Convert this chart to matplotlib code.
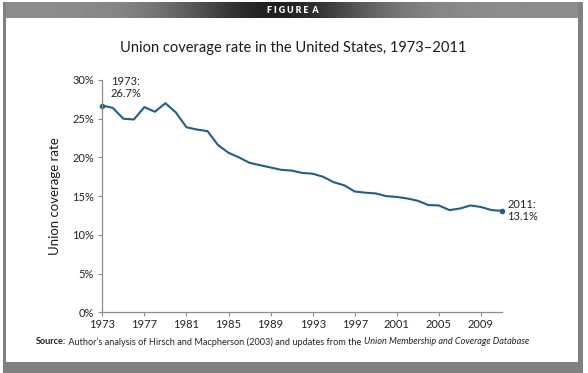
import numpy as np
import matplotlib
matplotlib.use('Agg')
import matplotlib.pyplot as plt

# Union coverage rate
years = list(range(1973, 2012))
coverage = [26.7, 26.4, 25.0, 24.9, 26.5, 25.9, 27.0, 25.8, 23.9, 23.6,
            23.4, 21.6, 20.6, 20.0, 19.3, 19.0, 18.7, 18.4, 18.3, 18.0,
            17.9, 17.5, 16.8, 16.4, 15.6, 15.45, 15.35, 15.0, 14.9, 14.7,
            14.4, 13.85, 13.8, 13.2, 13.4, 13.8, 13.6, 13.2, 13.1]
xtick_years = list(range(1973, 2011, 4))
ytick_vals = [0, 5, 10, 15, 20, 25, 30]

line_color = '#1f5f88'
frame_gray = '#808080'
plt.rcParams['font.family'] = ['Lato', 'DejaVu Sans']

W, H = 588, 373
fig = plt.figure(figsize=(W / 100, H / 100), dpi=100)
fig.patch.set_facecolor('white')

# outer frame: top banner with gradient, side borders, bottom band
bg = fig.add_axes([0, 0, 1, 1], zorder=-5)
bg.set_xlim(0, W)
bg.set_ylim(H, 0)
bg.axis('off')
xs = np.linspace(0, 1, 400)
shade = 0.55 - 0.42 * np.exp(-((xs - 0.47) / 0.17) ** 2)
grad = np.tile(shade, (2, 1))
bg.imshow(grad, cmap='gray', vmin=0, vmax=1, extent=(3, 583, 18, 2),
          aspect='auto', interpolation='bilinear')
bg.add_patch(plt.Rectangle((3, 2), 3, 361, color=frame_gray, lw=0))
bg.add_patch(plt.Rectangle((578, 2), 5, 361, color=frame_gray, lw=0))
bg.add_patch(plt.Rectangle((3, 362), 580, 11, color=frame_gray, lw=0))
bg.text(293, 10.5, 'F I G U R E  A', color='white', fontsize=6.3,
        fontweight='heavy', ha='center', va='center')

fig.text(0.498, 1 - 48 / H, 'Union coverage rate in the United States, 1973\u20132011',
         ha='center', va='center', fontsize=10.5, color='#1a1a1a')

ax = fig.add_axes([102.3 / W, 1 - 312.3 / H, (502 - 102.3) / W, (312.3 - 80) / H])
ax.plot(years, coverage, color=line_color, lw=1.5, solid_joinstyle='round')
ax.plot([years[0], years[-1]], [coverage[0], coverage[-1]], 'o',
        color=line_color, ms=3, clip_on=False)

ax.set_xlim(1973, 2011)
ax.set_ylim(0, 30)
ax.set_xticks(xtick_years)
ax.set_xticklabels([str(y) for y in xtick_years])
ax.set_yticks(ytick_vals)
ax.set_yticklabels([f'{v}%' for v in ytick_vals])
for side in ['top', 'right']:
    ax.spines[side].set_visible(False)
for side in ['left', 'bottom']:
    ax.spines[side].set_color('#8c8c8c')
    ax.spines[side].set_linewidth(0.9)
ax.tick_params(axis='both', colors='#8c8c8c', labelcolor='#222222',
               labelsize=8, length=3, width=0.8)
ax.tick_params(axis='x', pad=2)
ax.tick_params(axis='y', pad=3)
ax.set_ylabel('Union coverage rate', fontsize=9.5, color='#1a1a1a', labelpad=8)

ax.annotate(f'{years[0]}:\n{coverage[0]}%', (years[0], coverage[0]),
            xytext=(6, 5), textcoords='offset points', fontsize=8,
            color='#222222', ha='left', va='bottom', linespacing=1.1)
ax.annotate(f'{years[-1]}:\n{coverage[-1]}%', (years[-1], coverage[-1]),
            xytext=(4, 0), textcoords='offset points', fontsize=8,
            color='#222222', ha='left', va='center', linespacing=1.1)

# source line built from three pieces
t1 = fig.text(36 / W, 1 - 342 / H, 'Source:', fontsize=6.6, fontweight='bold',
              color='#222222', va='center')
t2 = fig.text(0, 0, ' Author\u2019s analysis of Hirsch and Macpherson (2003) and updates from the ',
              fontsize=6.6, color='#222222', va='center')
t3 = fig.text(0, 0, 'Union Membership and Coverage Database', fontsize=6.6,
              style='italic', color='#222222', va='center')
fig.canvas.draw()
r = fig.canvas.get_renderer()
inv = fig.transFigure.inverted()
x_end = inv.transform((t1.get_window_extent(r).x1, 0))[0]
t2.set_position((x_end, 1 - 342 / H))
fig.canvas.draw()
x_end = inv.transform((t2.get_window_extent(r).x1, 0))[0]
t3.set_position((x_end, 1 - 342 / H))

fig.savefig('out.png', dpi=100, facecolor='white')
